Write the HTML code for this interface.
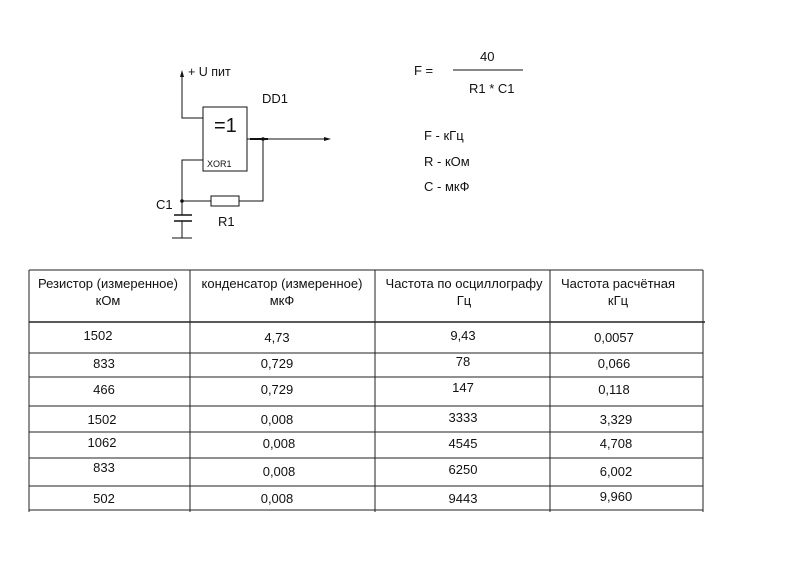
<!DOCTYPE html>
<html><head><meta charset="utf-8"><style>
body{margin:0;background:#fff}
svg{display:block}
text{font-family:"Liberation Sans","DejaVu Sans",sans-serif;fill:#111}
</style></head><body>
<svg width="800" height="566" viewBox="0 0 800 566" xmlns="http://www.w3.org/2000/svg">
<g stroke="#111" stroke-width="1" fill="none">
<polyline points="182,76 182,118 203,118"/>
<rect x="203" y="107" width="44" height="64"/>
<polyline points="203,160 182,160 182,201 211,201"/>
<rect x="211" y="196" width="28" height="10"/>
<polyline points="239,201 263,201 263,139"/>
<line x1="247" y1="139" x2="326" y2="139"/>
<line x1="250" y1="139" x2="268" y2="139" stroke-width="2"/>
<line x1="182" y1="201" x2="182" y2="215"/>
<line x1="174" y1="215" x2="192" y2="215" stroke-width="1.5"/>
<line x1="174" y1="221" x2="192" y2="221" stroke-width="1.5"/>
<line x1="182" y1="221" x2="182" y2="238"/>
<line x1="172" y1="238" x2="192" y2="238"/>
<line x1="453" y1="70" x2="523" y2="70"/>
</g>
<polygon points="182,70 180,77 184,77" fill="#111"/>
<polygon points="331,139 324,137 324,141" fill="#111"/>
<circle cx="182" cy="201" r="1.8" fill="#111"/>
<circle cx="263" cy="139" r="1.8" fill="#111"/>
<text x="188" y="76" font-size="12.5">+ U пит</text>
<text x="262" y="103" font-size="13">DD1</text>
<text x="214" y="132" font-size="20">=1</text>
<text x="207" y="167" font-size="9">XOR1</text>
<text x="156" y="209" font-size="13">C1</text>
<text x="218" y="226" font-size="13">R1</text>
<text x="414" y="75" font-size="13">F =</text>
<text x="480" y="61" font-size="13">40</text>
<text x="469" y="93" font-size="13">R1 * C1</text>
<text x="424" y="140" font-size="13">F - кГц</text>
<text x="424" y="166" font-size="13">R - кОм</text>
<text x="424" y="191" font-size="13">C - мкФ</text>
<g stroke="#222" stroke-width="1">
<line x1="29" y1="270" x2="703" y2="270"/>
<line x1="29" y1="270" x2="29" y2="512"/>
<line x1="190" y1="270" x2="190" y2="512"/>
<line x1="375" y1="270" x2="375" y2="512"/>
<line x1="550" y1="270" x2="550" y2="512"/>
<line x1="703" y1="270" x2="703" y2="512"/>
<line x1="29" y1="322" x2="705" y2="322" stroke-width="1.5"/>
<line x1="29" y1="353" x2="703" y2="353"/>
<line x1="29" y1="377" x2="703" y2="377"/>
<line x1="29" y1="406" x2="703" y2="406"/>
<line x1="29" y1="432" x2="703" y2="432"/>
<line x1="29" y1="458" x2="703" y2="458"/>
<line x1="29" y1="486" x2="703" y2="486"/>
<line x1="29" y1="510" x2="703" y2="510"/>
</g>
<g font-size="13" text-anchor="middle">
<text x="108" y="288">Резистор (измеренное)</text><text x="108" y="305">кОм</text>
<text x="282" y="288">конденсатор (измеренное)</text><text x="282" y="305">мкФ</text>
<text x="464" y="288">Частота по осциллографу</text><text x="464" y="305">Гц</text>
<text x="618" y="288">Частота расчётная</text><text x="618" y="305">кГц</text>
</g>
<g font-size="13" text-anchor="middle">
<text x="98" y="340">1502</text><text x="277" y="342">4,73</text><text x="463" y="340">9,43</text><text x="614" y="342">0,0057</text>
<text x="104" y="368">833</text><text x="277" y="368">0,729</text><text x="463" y="366">78</text><text x="614" y="368">0,066</text>
<text x="104" y="394">466</text><text x="277" y="394">0,729</text><text x="463" y="392">147</text><text x="614" y="394">0,118</text>
<text x="102" y="424">1502</text><text x="277" y="424">0,008</text><text x="463" y="422">3333</text><text x="616" y="424">3,329</text>
<text x="102" y="447">1062</text><text x="279" y="448">0,008</text><text x="463" y="448">4545</text><text x="616" y="448">4,708</text>
<text x="104" y="472">833</text><text x="279" y="476">0,008</text><text x="463" y="474">6250</text><text x="616" y="476">6,002</text>
<text x="104" y="503">502</text><text x="277" y="503">0,008</text><text x="463" y="503">9443</text><text x="616" y="501">9,960</text>
</g>
</svg>
</body></html>
